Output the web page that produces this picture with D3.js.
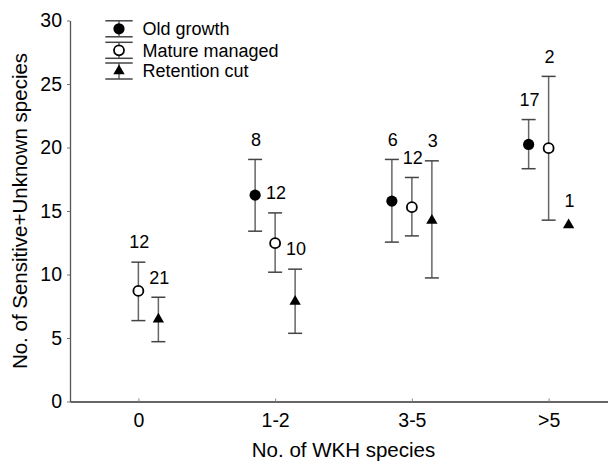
<!DOCTYPE html>
<html>
<head>
<meta charset="utf-8">
<script src="https://cdn.jsdelivr.net/npm/d3@7"></script>
<style>
  body { margin: 0; background: #fff; }
  svg { display: block; font-family: "Liberation Sans", Arial, sans-serif; }
</style>
</head>
<body>
<script>
// categories and series
var categories = ['0', '1-2', '3-5', '>5'];
var seriesNames = ['Old growth', 'Mature managed', 'Retention cut'];
var yTicks = [0, 5, 10, 15, 20, 25, 30];

// means, error bar ends and n per category (null = no value)
var oldMean = [null, 16.25, 15.78, 20.24];
var oldLow = [null, 13.41, 12.55, 18.33];
var oldHigh = [null, 19.06, 19.06, 22.2];
var oldN = [null, 8, 6, 17];

var matMean = [8.71, 12.47, 15.3, 19.95];
var matLow = [6.37, 10.18, 13.04, 14.28];
var matHigh = [10.97, 14.85, 17.64, 25.6];
var matN = [12, 12, 12, 2];

var retMean = [6.48, 7.87, 14.25, 13.9];
var retLow = [4.71, 5.37, 9.73, null];
var retHigh = [8.21, 10.42, 18.95, null];
var retN = [21, 10, 3, 1];

var width = 608, height = 461;
var svg = d3.select('body').append('svg')
  .attr('width', width)
  .attr('height', height);

var x = d3.scalePoint().domain(categories).range([70, 617]).padding(0.5);
var y = d3.scaleLinear().domain([0, 30]).range([401.5, 20.5]);

// y axis
var yAxis = svg.append('g')
  .attr('transform', 'translate(70,0)')
  .call(d3.axisLeft(y).tickValues(yTicks).tickSize(3).tickSizeOuter(0).tickPadding(5));
yAxis.select('.domain').attr('stroke', '#555').attr('stroke-width', 1.3);
yAxis.selectAll('.tick line').attr('stroke', '#777');
yAxis.selectAll('.tick text').attr('font-size', 19.5).attr('fill', '#000')
  .attr('font-family', '"Liberation Sans", Arial, sans-serif');

// x axis
var xAxis = svg.append('g')
  .attr('transform', 'translate(0,401.5)')
  .call(d3.axisBottom(x).tickSize(-3).tickSizeOuter(0).tickPadding(12));
xAxis.select('.domain').attr('stroke', '#333').attr('stroke-width', 1.3);
xAxis.selectAll('.tick line').attr('stroke', '#888');
xAxis.selectAll('.tick text').attr('font-size', 19.5).attr('fill', '#000')
  .attr('font-family', '"Liberation Sans", Arial, sans-serif');

// axis titles
svg.append('text')
  .attr('x', 343.5).attr('y', 456.5)
  .attr('text-anchor', 'middle')
  .attr('font-size', 20.5)
  .text('No. of WKH species');

svg.append('text')
  .attr('transform', 'translate(27,211) rotate(-90)')
  .attr('text-anchor', 'middle')
  .attr('font-size', 20.5)
  .text('No. of Sensitive+Unknown species');

var series = [
  { name: seriesNames[0], mean: oldMean, low: oldLow, high: oldHigh, n: oldN, dx: -20, shape: 'filled' },
  { name: seriesNames[1], mean: matMean, low: matLow, high: matHigh, n: matN, dx: 0, shape: 'open' },
  { name: seriesNames[2], mean: retMean, low: retLow, high: retHigh, n: retN, dx: 20, shape: 'triangle' }
];

function drawMarker(g, shape, cx, cy) {
  if (shape === 'filled') {
    g.append('circle').attr('cx', cx).attr('cy', cy).attr('r', 5.6).attr('fill', '#000');
  } else if (shape === 'open') {
    g.append('circle').attr('cx', cx).attr('cy', cy).attr('r', 5)
      .attr('fill', '#fff').attr('stroke', '#000').attr('stroke-width', 1.8);
  } else {
    g.append('path')
      .attr('d', d3.symbol().type(d3.symbolTriangle).size(56)())
      .attr('transform', 'translate(' + cx + ',' + cy + ')')
      .attr('fill', '#000');
  }
}

function errorBar(g, cx, y1, y2, hw) {
  g.append('line').attr('x1', cx).attr('x2', cx).attr('y1', y1).attr('y2', y2)
    .attr('stroke', '#666').attr('stroke-width', 1.5);
  [y1, y2].forEach(function(yy) {
    g.append('line').attr('x1', cx - hw).attr('x2', cx + hw).attr('y1', yy).attr('y2', yy)
      .attr('stroke', '#444').attr('stroke-width', 1.5);
  });
}

var plot = svg.append('g');
series.forEach(function(s) {
  categories.forEach(function(c, i) {
    if (s.mean[i] == null) return;
    var cx = x(c) + s.dx;
    if (s.low[i] != null) {
      errorBar(plot, cx, y(s.high[i]), y(s.low[i]), 7);
    }
    drawMarker(plot, s.shape, cx, y(s.mean[i]));
    var top = s.high[i] != null ? y(s.high[i]) : y(s.mean[i]) - 4;
    plot.append('text')
      .attr('x', cx + 1).attr('y', top - 20)
      .attr('dy', '0.35em')
      .attr('text-anchor', 'middle')
      .attr('font-size', 18)
      .text(s.n[i]);
  });
});

// legend
var legend = svg.append('g');
var legendY = [28.8, 50.3, 71];
series.forEach(function(s, i) {
  var ly = legendY[i];
  errorBar(legend, 119, ly - 8, ly + 8, 13.7);
  drawMarker(legend, s.shape, 119, ly);
  legend.append('text')
    .attr('x', 142.5).attr('y', ly)
    .attr('dy', '0.35em')
    .attr('font-size', 18)
    .text(s.name);
});
</script>
</body>
</html>
